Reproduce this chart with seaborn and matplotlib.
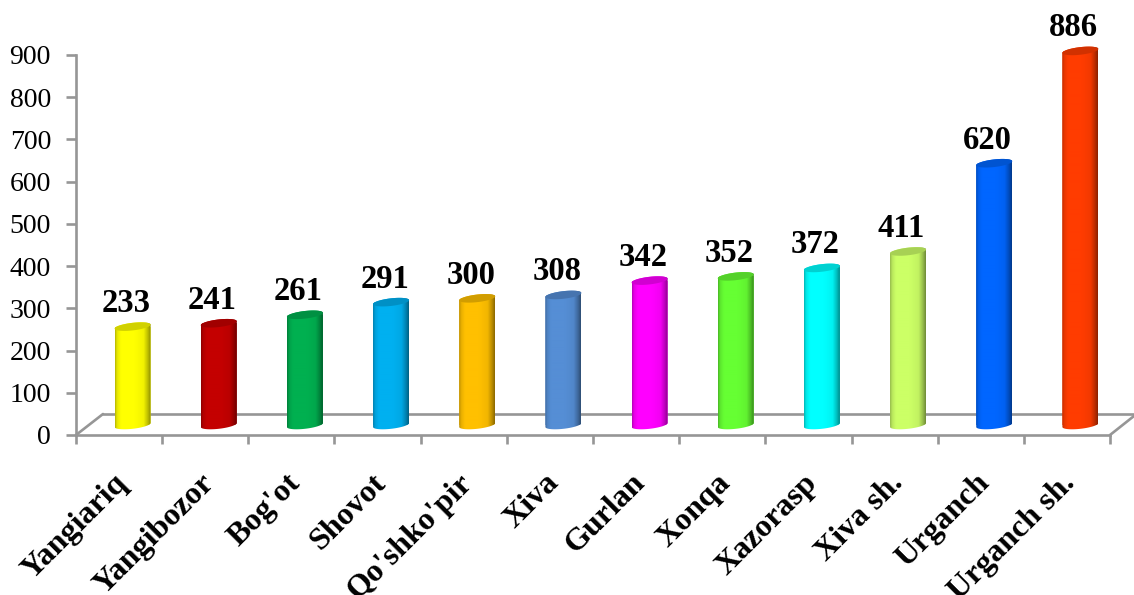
import numpy as np
import pandas as pd
import seaborn as sns
import matplotlib
matplotlib.use("Agg")
import matplotlib.pyplot as plt
from matplotlib.colors import to_rgb
from matplotlib.lines import Line2D
from matplotlib.patches import Polygon
from matplotlib.transforms import ScaledTranslation

districts = ["Yangiariq", "Yangibozor", "Bog'ot", "Shovot", "Qo'shko'pir", "Xiva",
             "Gurlan", "Xonqa", "Xazorasp", "Xiva sh.", "Urganch", "Urganch sh."]
values = [233, 241, 261, 291, 300, 308, 342, 352, 372, 411, 620, 886]
colors = ["#FFFF00", "#C40000", "#00B050", "#00B0F0", "#FFC000", "#558ED5",
          "#FF00FF", "#66FF33", "#00FFFF", "#CCFF66", "#0066FF", "#FF3C00"]
y_ticks = list(range(0, 901, 100))

sns.set_style("white")
plt.rcParams["font.family"] = ["Liberation Serif", "DejaVu Sans"]

W, H = 1134, 595
fig = plt.figure(figsize=(W / 100, H / 100), dpi=100)
GREY = "#969696"
LW = 1.9

def px_axes(left, right, top, bottom, **kw):
    return fig.add_axes([left / W, 1 - bottom / H, (right - left) / W, (bottom - top) / H], **kw)

# front frame: value axis and category axis
ax = px_axes(76, 1110, 55, 435)
ax.set_zorder(0)
ax.set_xlim(-0.5, 11.5)
ax.set_ylim(0, 900)
for s in ["top", "right"]:
    ax.spines[s].set_visible(False)
for s in ["left", "bottom"]:
    ax.spines[s].set_color(GREY)
    ax.spines[s].set_linewidth(LW)
ax.set_yticks(y_ticks)
ax.tick_params(axis="y", length=7, width=LW, color=GREY, labelsize=20, pad=11, labelcolor="black", left=True)
ax.set_xticks(np.arange(-0.5, 12, 1))
ax.set_xticklabels([])
ax.tick_params(axis="x", which="major", length=6.5, width=LW, color=GREY, bottom=True)
ax.set_xticks(np.arange(12), labels=districts, minor=True)
ax.tick_params(axis="x", which="minor", length=0, pad=24, labelsize=23, labelcolor="black")
lab_tr = ScaledTranslation(-6 / 100, 0, fig.dpi_scale_trans)
for t in ax.get_xticklabels(minor=True):
    t.set_rotation(45)
    t.set_ha("right")
    t.set_va("top")
    t.set_rotation_mode("anchor")
    t.set_fontweight("bold")
    t.set_transform(t.get_transform() + lab_tr)
    t.set_clip_on(False)

# floor drawn in pixel coordinates
def to_fig(xp, yp):
    return xp / W, 1 - yp / H
for a, b in [((76, 435), (103, 414)), ((103, 414), (1134, 414)), ((1110, 435), (1134, 416))]:
    xa, ya = to_fig(*a)
    xb, yb = to_fig(*b)
    fig.add_artist(Line2D([xa, xb], [ya, yb], color=GREY, lw=LW, zorder=1))

# depth axes holding cylinders, shifted up-right from the frame
px_per_y = 380 / 900
y_floor = -40
bx = px_axes(89.5, 1123.5, 45, 425 - y_floor * px_per_y)
bx.set_zorder(2)
bx.patch.set_alpha(0)
df = pd.DataFrame({"district": districts, "value": values})
sns.barplot(data=df, x="district", y="value", hue="district", palette=colors, dodge=False,
            width=36 / 86.17, saturation=1, legend=False, ax=bx, linewidth=0)
bx.set_xlim(-0.5, 11.5)
bx.set_ylim(y_floor, 900)
bx.axis("off")

profile_x = np.array([0, .05, .16, .55, .8, .92, 1])
profile_f = np.array([.72, .9, 1, 1, .95, .74, .55])
t = np.linspace(0, 2 * np.pi, 81)

for patch, val in zip(bx.patches, values):
    cx = patch.get_x() + patch.get_width() / 2
    a = patch.get_width() / 2
    b = 3.8 / px_per_y
    shear = (2.0 / px_per_y) / a
    col = np.array(to_rgb(patch.get_facecolor()[:3]))

    top_e = np.c_[cx + a * np.cos(t), val + b * np.sin(t) + shear * a * np.cos(t)]
    # body outline: left side, lower arc, right side, top arc
    lower = np.c_[cx - a * np.cos(t[:41]), 0 - b * np.sin(t[:41]) - shear * a * np.cos(t[:41])]
    upper = np.c_[cx + a * np.cos(t[:41]), val + b * np.sin(t[:41]) + shear * a * np.cos(t[:41])]
    body = Polygon(np.r_[lower, upper], closed=True, transform=bx.transData, fc="none", ec="none")
    bx.add_patch(body)
    patch.set_clip_path(body)

    xs = np.linspace(0, 1, 72)
    fac = np.interp(xs, profile_x, profile_f)[None, :, None]
    img = np.clip(col[None, None, :] * fac, 0, 1)
    ymin, ymax = -b - shear * a, val + b + shear * a
    im = bx.imshow(img, extent=[cx - a, cx + a, ymin, ymax], aspect="auto", zorder=3, interpolation="bilinear")
    im.set_clip_path(body)

    bx.add_patch(Polygon(top_e, closed=True, fc=col * 0.82, ec="none", zorder=4))
    bx.annotate(str(val), (cx, val), xytext=(-6.5, 23), textcoords="offset pixels", ha="center", va="center",
                fontsize=23.5, fontweight="bold", color="black", zorder=5, annotation_clip=False)

bx.set_xlim(-0.5, 11.5)
bx.set_ylim(y_floor, 900)

fig.savefig("out.png", dpi=100, facecolor="white")
